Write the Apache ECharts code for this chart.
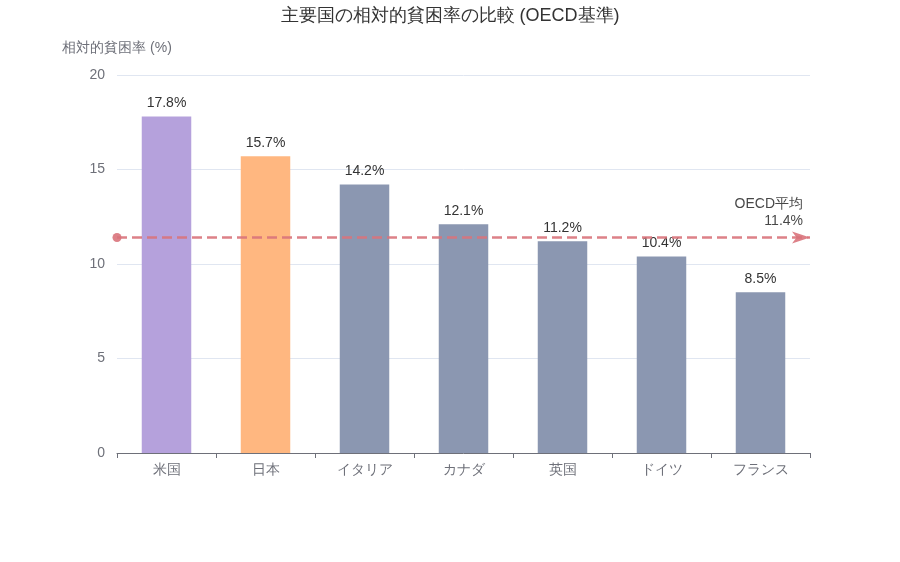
<!DOCTYPE html>
<html lang="ja">
<head>
    <meta charset="UTF-8">
    <title>主要国の相対的貧困率の比較</title>
    <style>
        body { margin: 0; }
        #main { width: 900px; height: 562px; }
    </style>
    <script src="https://cdn.jsdelivr.net/npm/echarts@6/dist/echarts.min.js"></script>
</head>
<body>
    <div id="main"></div>
    <script>
        // 国名と貧困率
        const countries = ['米国', '日本', 'イタリア', 'カナダ', '英国', 'ドイツ', 'フランス'];
        const rates = [17.8, 15.7, 14.2, 12.1, 11.2, 10.4, 8.5];
        const barColors = ['#b5a1dc', '#ffb780', '#8b97b1', '#8b97b1', '#8b97b1', '#8b97b1', '#8b97b1'];
        const oecdAverage = 11.4;

        const chart = echarts.init(document.getElementById('main'));

        const option = {
            title: {
                text: '主要国の相対的貧困率の比較 (OECD基準)',
                left: 'center',
                top: 2,
                textStyle: { fontSize: 18, fontWeight: 'normal', color: '#333' }
            },
            grid: { left: 117, right: 90, top: 75, bottom: 109 },
            xAxis: {
                type: 'category',
                data: countries,
                axisLine: { lineStyle: { color: '#6e7079' } },
                axisTick: { show: true },
                axisLabel: { color: '#6e7079', fontSize: 14, margin: 10 }
            },
            yAxis: {
                type: 'value',
                name: '相対的貧困率 (%)',
                nameGap: 20,
                nameTextStyle: { color: '#6e7079', fontSize: 14, align: 'center' },
                min: 0,
                max: 20,
                interval: 5,
                axisLabel: { color: '#6e7079', fontSize: 14, margin: 12 },
                splitLine: { lineStyle: { color: '#e0e6f1' } }
            },
            series: [{
                type: 'bar',
                barWidth: '50%',
                data: rates.map((v, i) => ({ value: v, itemStyle: { color: barColors[i] } })),
                label: {
                    show: true,
                    position: 'top',
                    distance: 6,
                    formatter: '{c}%',
                    color: '#333',
                    fontSize: 14
                },
                markLine: {
                    silent: true,
                    symbol: ['circle', 'arrow'],
                    symbolSize: [9, 18],
                    lineStyle: { color: '#d9737b', type: 'dashed', width: 2.5, opacity: 0.9 },
                    label: {
                        position: 'insideEndTop',
                        distance: [7, 8],
                        formatter: 'OECD平均\n' + oecdAverage + '%',
                        color: '#333',
                        fontSize: 14,
                        lineHeight: 17,
                        align: 'right'
                    },
                    data: [{ yAxis: oecdAverage }]
                }
            }]
        };

        chart.setOption(option);
    </script>
</body>
</html>
